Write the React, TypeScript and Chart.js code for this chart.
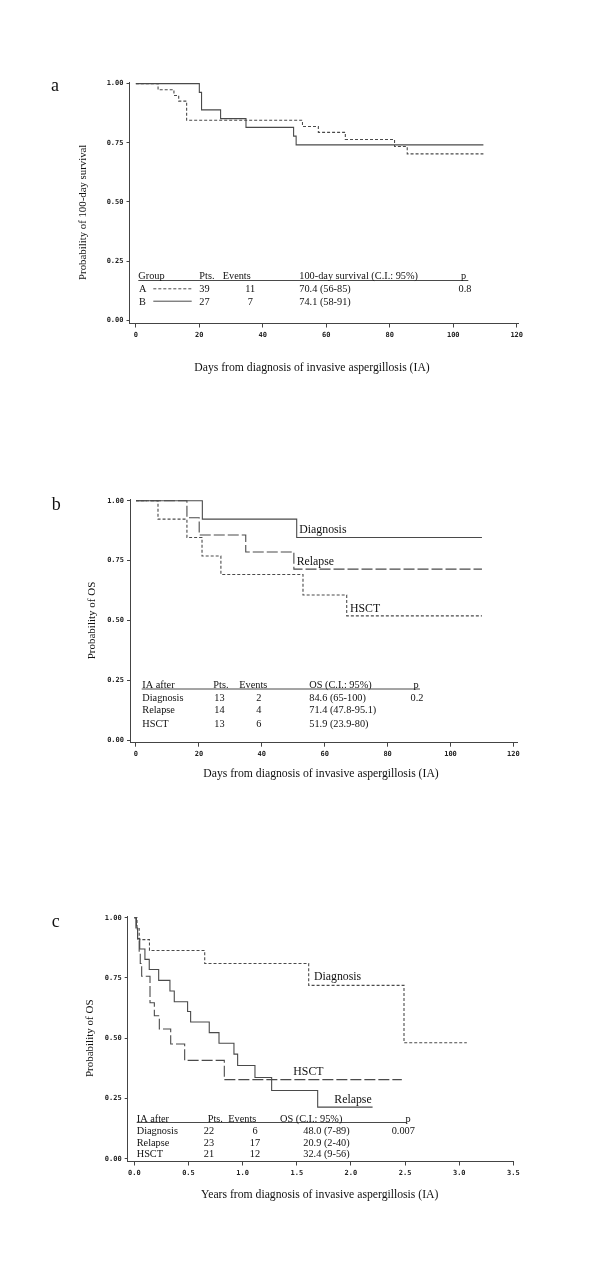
import React, { useEffect, useRef } from 'react';
import { Chart, registerables } from 'chart.js';

Chart.register(...registerables);

// ---------------- Data ----------------
// Panel a: 100-day survival (days)
const A_TIMES = [7, 12, 13.5, 16, 52.5, 57.5, 66, 81.5, 85.5];
const A_SURV = [0.974, 0.950, 0.926, 0.845, 0.819, 0.794, 0.764, 0.734, 0.703];
const A_END = 109.5;
const B_TIMES = [20, 20.7, 26.7, 34.7, 49.7, 50.5];
const B_SURV = [0.963, 0.889, 0.852, 0.815, 0.778, 0.741];
const B_END = 109.5;

// Panel b: OS (days)
const B_DIAG_TIMES = [21.1, 51.1];
const B_DIAG_SURV = [0.923, 0.846];
const B_REL_TIMES = [16.2, 20.1, 34.9, 50.2];
const B_REL_SURV = [0.929, 0.857, 0.786, 0.714];
const B_HSCT_TIMES = [7, 16.2, 21, 27, 53.1, 67];
const B_HSCT_SURV = [0.923, 0.846, 0.769, 0.692, 0.606, 0.519];
const B_OS_END = 110;

// Panel c: OS (years)
const C_DIAG_TIMES = [0.025, 0.045, 0.14, 0.65, 1.61, 2.49];
const C_DIAG_SURV = [0.955, 0.909, 0.864, 0.81, 0.719, 0.481];
const C_DIAG_END = 3.07;
const C_REL_TIMES = [0.015, 0.03, 0.05, 0.098, 0.138, 0.225, 0.329, 0.369, 0.492, 0.52, 0.692, 0.782, 0.92, 0.954, 1.114, 1.268, 1.693];
const C_REL_SURV = [0.957, 0.913, 0.87, 0.827, 0.785, 0.74, 0.696, 0.651, 0.611, 0.567, 0.523, 0.479, 0.434, 0.387, 0.337, 0.283, 0.214];
const C_REL_END = 2.2;
const C_HSCT_TIMES = [0.02, 0.03, 0.045, 0.055, 0.068, 0.145, 0.185, 0.231, 0.336, 0.465, 0.831];
const C_HSCT_SURV = [0.952, 0.905, 0.857, 0.81, 0.757, 0.647, 0.593, 0.538, 0.476, 0.408, 0.328];
const C_HSCT_END = 2.47;

// Ticks
const Y_TICKS = [0, 0.25, 0.5, 0.75, 1];
const Y_TICK_LABELS = ['0.00', '0.25', '0.50', '0.75', '1.00'];
const X_DAY_TICKS = [0, 20, 40, 60, 80, 100, 120];
const X_DAY_LABELS = ['0', '20', '40', '60', '80', '100', '120'];
const X_YEAR_TICKS = [0, 0.5, 1, 1.5, 2, 2.5, 3, 3.5];
const X_YEAR_LABELS = ['0.0', '0.5', '1.0', '1.5', '2.0', '2.5', '3.0', '3.5'];

// Table texts
const TABLE_A_HEADER = ['Group', 'Pts.', 'Events', '100-day survival (C.I.: 95%)', 'p'];
const TABLE_A_ROWS = [
  ['A', '39', '11', '70.4 (56-85)', '0.8'],
  ['B', '27', '7', '74.1 (58-91)', ''],
];
const TABLE_B_HEADER = ['IA after', 'Pts.', 'Events', 'OS (C.I.: 95%)', 'p'];
const TABLE_B_ROWS = [
  ['Diagnosis', '13', '2', '84.6 (65-100)', '0.2'],
  ['Relapse', '14', '4', '71.4 (47.8-95.1)', ''],
  ['HSCT', '13', '6', '51.9 (23.9-80)', ''],
];
const TABLE_C_HEADER = ['IA after', 'Pts.', 'Events', 'OS (C.I.: 95%)', 'p'];
const TABLE_C_ROWS = [
  ['Diagnosis', '22', '6', '48.0 (7-89)', '0.007'],
  ['Relapse', '23', '17', '20.9 (2-40)', ''],
  ['HSCT', '21', '12', '32.4 (9-56)', ''],
];

// ---------------- Styles / layout ----------------
const W = 600;
const H = 1263;
const SERIF = '"Liberation Serif", "Times New Roman", serif';
const MONO = '"DejaVu Sans Mono", monospace';
const LINE_COLOR = '#4a4a4a';
const AXIS_COLOR = '#444';
const SHORT_DASH = [3, 2];
const LONG_DASH = [11, 3];
const SOLID: number[] = [];

type Align = 'left' | 'center' | 'right';
interface TextItem { t: string; x: number; y: number; size: number; align?: Align; rot?: boolean }
interface Seg { x1: number; x2: number; y: number; dash: number[] }
interface Series { times: number[]; surv: number[]; end: number; dash: number[] }
interface Panel {
  area: { left: number; right: number; top: number; bottom: number };
  xMin: number; xMax: number; xTicks: number[]; xLabels: string[];
  yMin: number; yMax: number;
  series: Series[];
  texts: TextItem[];
  segs: Seg[];
}

function table(
  header: string[], rows: string[][],
  hx: number[], ha: Align[], rx: number[], ra: Align[],
  hy: number, ry: number[], size: number
): TextItem[] {
  const out: TextItem[] = [];
  header.forEach((t, i) => out.push({ t, x: hx[i], y: hy, size, align: ha[i] }));
  rows.forEach((r, j) => r.forEach((t, i) => { if (t) out.push({ t, x: rx[i], y: ry[j], size, align: ra[i] }); }));
  return out;
}

const TBL = 10.3;

const PANELS: Panel[] = [
  {
    area: { left: 129.5, right: 518, top: 82, bottom: 323.5 },
    xMin: -2.0, xMax: 120.4, xTicks: X_DAY_TICKS, xLabels: X_DAY_LABELS,
    yMin: -0.0135, yMax: 1.0068,
    series: [
      { times: A_TIMES, surv: A_SURV, end: A_END, dash: SHORT_DASH },
      { times: B_TIMES, surv: B_SURV, end: B_END, dash: SOLID },
    ],
    texts: [
      { t: 'a', x: 51, y: 90.7, size: 18, align: 'left' },
      { t: 'Probability of 100-day survival', x: 83.3, y: 212.3, size: 10.8, rot: true },
      { t: 'Days from diagnosis of invasive aspergillosis (IA)', x: 312, y: 371, size: 11.7, align: 'center' },
      ...table(TABLE_A_HEADER, TABLE_A_ROWS,
        [138.3, 199.3, 222.7, 299.3, 463.5], ['left', 'left', 'left', 'left', 'center'],
        [139, 199.3, 250.3, 299.3, 465], ['left', 'left', 'center', 'left', 'center'],
        279.3, [292.3, 304.7], TBL),
    ],
    segs: [
      { x1: 138.3, x2: 468.3, y: 280.5, dash: SOLID },
      { x1: 153.3, x2: 191.7, y: 288.8, dash: SHORT_DASH },
      { x1: 153.3, x2: 191.7, y: 301.2, dash: SOLID },
    ],
  },
  {
    area: { left: 130, right: 517.5, top: 499.2, bottom: 742.7 },
    xMin: -1.9, xMax: 121.3, xTicks: X_DAY_TICKS, xLabels: X_DAY_LABELS,
    yMin: -0.011, yMax: 1.0063,
    series: [
      { times: B_DIAG_TIMES, surv: B_DIAG_SURV, end: B_OS_END, dash: SOLID },
      { times: B_REL_TIMES, surv: B_REL_SURV, end: B_OS_END, dash: LONG_DASH },
      { times: B_HSCT_TIMES, surv: B_HSCT_SURV, end: B_OS_END, dash: SHORT_DASH },
    ],
    texts: [
      { t: 'b', x: 51.7, y: 510, size: 18, align: 'left' },
      { t: 'Probability of OS', x: 91.7, y: 620.5, size: 11, rot: true },
      { t: 'Days from diagnosis of invasive aspergillosis (IA)', x: 321, y: 776.7, size: 11.7, align: 'center' },
      { t: 'Diagnosis', x: 299.3, y: 532.7, size: 11.8, align: 'left' },
      { t: 'Relapse', x: 296.7, y: 565.3, size: 11.8, align: 'left' },
      { t: 'HSCT', x: 350, y: 611.7, size: 11.8, align: 'left' },
      ...table(TABLE_B_HEADER, TABLE_B_ROWS,
        [142.3, 213.3, 239.3, 309.3, 416], ['left', 'left', 'left', 'left', 'center'],
        [142.3, 219.5, 258.7, 309.3, 417], ['left', 'center', 'center', 'left', 'center'],
        688, [700.7, 713.3, 726.7], TBL),
    ],
    segs: [
      { x1: 141.7, x2: 420, y: 689, dash: SOLID },
    ],
  },
  {
    area: { left: 127.7, right: 513.5, top: 916.2, bottom: 1161.5 },
    xMin: -0.061, xMax: 3.501, xTicks: X_YEAR_TICKS, xLabels: X_YEAR_LABELS,
    yMin: -0.0116, yMax: 1.0062,
    series: [
      { times: C_DIAG_TIMES, surv: C_DIAG_SURV, end: C_DIAG_END, dash: SHORT_DASH },
      { times: C_REL_TIMES, surv: C_REL_SURV, end: C_REL_END, dash: SOLID },
      { times: C_HSCT_TIMES, surv: C_HSCT_SURV, end: C_HSCT_END, dash: LONG_DASH },
    ],
    texts: [
      { t: 'c', x: 51.7, y: 926.7, size: 18, align: 'left' },
      { t: 'Probability of OS', x: 90, y: 1038.3, size: 11, rot: true },
      { t: 'Years from diagnosis of invasive aspergillosis (IA)', x: 319.7, y: 1198.3, size: 11.7, align: 'center' },
      { t: 'Diagnosis', x: 314, y: 980, size: 11.8, align: 'left' },
      { t: 'HSCT', x: 293.3, y: 1075, size: 11.8, align: 'left' },
      { t: 'Relapse', x: 334.3, y: 1102.7, size: 11.8, align: 'left' },
      ...table(TABLE_C_HEADER, TABLE_C_ROWS,
        [136.7, 207.7, 228.3, 280, 408], ['left', 'left', 'left', 'left', 'center'],
        [136.7, 209, 255, 303.3, 403.3], ['left', 'center', 'center', 'left', 'center'],
        1121.5, [1134, 1145.7, 1157.3], TBL),
    ],
    segs: [
      { x1: 136.7, x2: 406.7, y: 1122.5, dash: SOLID },
    ],
  },
];

function kmPoints(times: number[], surv: number[], end: number) {
  const pts = [{ x: 0, y: 1 }];
  times.forEach((t, i) => pts.push({ x: t, y: surv[i] }));
  pts.push({ x: end, y: surv[surv.length - 1] });
  return pts;
}

const Y_AXIS_W = 40;
const X_AXIS_H = 24;

function makeConfig(p: Panel): any {
  const annot = {
    id: 'annot',
    afterDraw(chart: any) {
      const ctx = chart.ctx as CanvasRenderingContext2D;
      ctx.save();
      // rules and legend samples
      ctx.strokeStyle = LINE_COLOR;
      ctx.lineWidth = 1;
      p.segs.forEach((s) => {
        ctx.setLineDash(s.dash);
        ctx.beginPath();
        ctx.moveTo(s.x1, s.y);
        ctx.lineTo(s.x2, s.y);
        ctx.stroke();
      });
      ctx.setLineDash([]);
      ctx.fillStyle = '#111';
      p.texts.forEach((it) => {
        ctx.font = `${it.size}px ${SERIF}`;
        if (it.rot) {
          ctx.save();
          ctx.translate(it.x, it.y);
          ctx.rotate(-Math.PI / 2);
          ctx.textAlign = 'center';
          ctx.textBaseline = 'middle';
          ctx.fillText(it.t, 0, 0);
          ctx.restore();
        } else {
          ctx.textAlign = it.align || 'left';
          ctx.textBaseline = 'alphabetic';
          ctx.fillText(it.t, it.x, it.y);
        }
      });
      ctx.restore();
    },
  };

  return {
    type: 'line',
    data: {
      datasets: p.series.map((s) => ({
        data: kmPoints(s.times, s.surv, s.end),
        stepped: 'before',
        borderColor: LINE_COLOR,
        borderWidth: 1.1,
        borderDash: s.dash,
        pointRadius: 0,
        fill: false,
        tension: 0,
      })),
    },
    options: {
      animation: false,
      responsive: false,
      events: [],
      layout: {
        padding: {
          left: p.area.left - Y_AXIS_W,
          top: p.area.top,
          right: W - p.area.right,
          bottom: H - p.area.bottom - X_AXIS_H,
        },
      },
      plugins: { legend: { display: false }, tooltip: { enabled: false }, title: { display: false } },
      scales: {
        x: {
          type: 'linear',
          min: p.xMin,
          max: p.xMax,
          afterBuildTicks: (s: any) => { s.ticks = p.xTicks.map((v) => ({ value: v })); },
          afterFit: (s: any) => { s.height = X_AXIS_H; },
          grid: { drawOnChartArea: false, drawTicks: true, tickLength: 4, color: AXIS_COLOR, lineWidth: 1 },
          border: { display: true, color: AXIS_COLOR, width: 1 },
          ticks: {
            autoSkip: false,
            maxRotation: 0,
            padding: 3,
            color: '#222',
            font: { family: MONO, size: 7, weight: 'bold' },
            callback: (v: number) => p.xLabels[p.xTicks.indexOf(v)] ?? '',
          },
        },
        y: {
          type: 'linear',
          min: p.yMin,
          max: p.yMax,
          afterBuildTicks: (s: any) => { s.ticks = Y_TICKS.map((v) => ({ value: v })); },
          afterFit: (s: any) => { s.width = Y_AXIS_W; },
          grid: { drawOnChartArea: false, drawTicks: true, tickLength: 3, color: AXIS_COLOR, lineWidth: 1 },
          border: { display: true, color: AXIS_COLOR, width: 1 },
          ticks: {
            autoSkip: false,
            padding: 3,
            color: '#222',
            font: { family: MONO, size: 7, weight: 'bold' },
            callback: (v: number) => Y_TICK_LABELS[Y_TICKS.indexOf(v)] ?? '',
          },
        },
      },
    },
    plugins: [annot],
  };
}

function PanelCanvas({ panel }: { panel: Panel }) {
  const ref = useRef<HTMLCanvasElement>(null);
  useEffect(() => {
    if (!ref.current) return;
    const chart = new Chart(ref.current, makeConfig(panel));
    return () => chart.destroy();
  }, [panel]);
  return (
    <canvas
      ref={ref}
      width={W}
      height={H}
      style={{ position: 'absolute', left: 0, top: 0, width: W, height: H }}
    />
  );
}

export default function App() {
  return (
    <div style={{ position: 'absolute', left: 0, top: 0, width: W, height: H, background: '#fff', overflow: 'hidden' }}>
      {PANELS.map((p, i) => (
        <PanelCanvas key={i} panel={p} />
      ))}
    </div>
  );
}
